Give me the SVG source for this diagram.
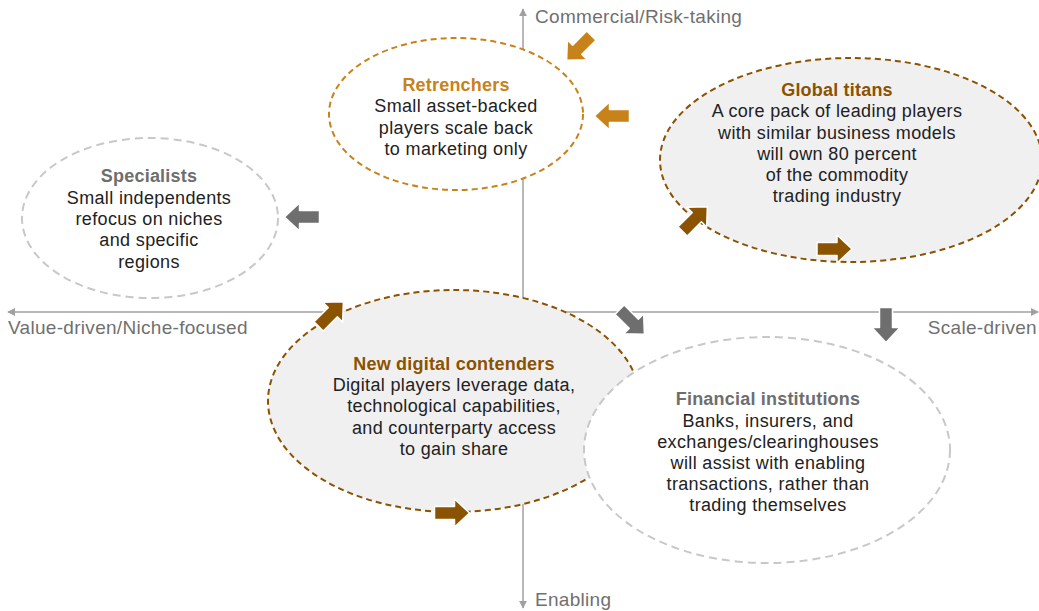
<svg xmlns="http://www.w3.org/2000/svg" width="1039" height="611" viewBox="0 0 1039 611">
<style>
.axis{stroke:#a0a0a0;stroke-width:1.5;fill:none}
.axl{font-family:"Liberation Sans",Arial,sans-serif;font-size:19px;letter-spacing:0.3px;fill:#707070}
.t{font-family:"Liberation Sans",Arial,sans-serif;font-size:18px;letter-spacing:0.35px;fill:#222;text-anchor:middle}
.h{font-weight:bold;font-size:18px;letter-spacing:0.2px}
.gold{fill:#c8821a}
.brown{fill:#8b5200}
.grey{fill:#6e6e6e}
.eb{stroke:#8b5200;stroke-width:2;stroke-dasharray:6 4;fill:#f0f0f0}
.eg{stroke:#c8821a;stroke-width:2;stroke-dasharray:6 4;fill:#fff}
.el{stroke:#c8c8c8;stroke-width:2;stroke-dasharray:8 5;fill:#fff}
.ar{stroke:#fff;stroke-width:1.5;stroke-linejoin:round}
</style>
<defs>
<path id="blk" d="M-17.5,-6.5 H2.5 V-14 L17.5,0 L2.5,14 V6.5 H-17.5 Z"/>
<marker id="ah" viewBox="0 0 10 10" refX="9" refY="5" markerWidth="8" markerHeight="8" markerUnits="userSpaceOnUse" orient="auto"><path d="M0,0 L10,5 L0,10 Z" fill="#a0a0a0"/></marker>
</defs>
<g id="axes">
<line class="axis" x1="523" y1="312" x2="523" y2="9" marker-end="url(#ah)"/>
<line class="axis" x1="523" y1="312" x2="523" y2="608" marker-end="url(#ah)"/>
<line class="axis" x1="523" y1="312" x2="8" y2="312" marker-end="url(#ah)"/>
<line class="axis" x1="523" y1="312" x2="1038" y2="312" marker-end="url(#ah)"/>
<text class="axl" x="535" y="23">Commercial/Risk-taking</text>
<text class="axl" x="8" y="334">Value-driven/Niche-focused</text>
<text class="axl" x="1037" y="334" text-anchor="end">Scale-driven</text>
<text class="axl" x="535" y="606">Enabling</text>
</g>
<g id="specialists">
<ellipse class="el" cx="150" cy="218" rx="128" ry="80"/>
<text class="t h grey" x="149" y="182">Specialists</text>
<text class="t" x="149" y="204">Small independents</text>
<text class="t" x="149" y="225">refocus on niches</text>
<text class="t" x="149" y="246">and specific</text>
<text class="t" x="149" y="268">regions</text>
</g>
<g id="retrenchers">
<ellipse class="eg" cx="456" cy="114" rx="127" ry="76"/>
<text class="t h gold" x="456" y="91">Retrenchers</text>
<text class="t" x="456" y="112">Small asset-backed</text>
<text class="t" x="456" y="134">players scale back</text>
<text class="t" x="456" y="155">to marketing only</text>
</g>
<g id="global-titans">
<ellipse class="eb" cx="851" cy="160" rx="191" ry="102"/>
<text class="t h brown" x="837" y="96">Global titans</text>
<text class="t" x="837" y="117">A core pack of leading players</text>
<text class="t" x="837" y="139">with similar business models</text>
<text class="t" x="837" y="160">will own 80 percent</text>
<text class="t" x="837" y="181">of the commodity</text>
<text class="t" x="837" y="202">trading industry</text>
</g>
<g id="new-digital-contenders">
<ellipse class="eb" cx="454" cy="401" rx="186" ry="111"/>
<text class="t h brown" x="454" y="370">New digital contenders</text>
<text class="t" x="454" y="391">Digital players leverage data,</text>
<text class="t" x="454" y="412">technological capabilities,</text>
<text class="t" x="454" y="434">and counterparty access</text>
<text class="t" x="454" y="455">to gain share</text>
</g>
<g id="financial-institutions">
<ellipse class="el" cx="767" cy="450" rx="183" ry="113"/>
<text class="t h grey" x="768" y="405">Financial institutions</text>
<text class="t" x="768" y="427">Banks, insurers, and</text>
<text class="t" x="768" y="448">exchanges/clearinghouses</text>
<text class="t" x="768" y="469">will assist with enabling</text>
<text class="t" x="768" y="490">transactions, rather than</text>
<text class="t" x="768" y="511">trading themselves</text>
</g>
<g id="connectors">
<use href="#blk" class="ar gold" transform="translate(579,48) rotate(135)"/>
<use href="#blk" class="ar gold" transform="translate(612,116) rotate(180)"/>
<use href="#blk" class="ar grey" transform="translate(302,217) rotate(180)"/>
<use href="#blk" class="ar brown" transform="translate(331,314) rotate(-45)"/>
<use href="#blk" class="ar brown" transform="translate(695,219) rotate(-45)"/>
<use href="#blk" class="ar brown" transform="translate(834.5,249)"/>
<use href="#blk" class="ar grey" transform="translate(632,322) rotate(45)"/>
<use href="#blk" class="ar grey" transform="translate(886,325) rotate(90)"/>
<use href="#blk" class="ar brown" transform="translate(452,513)"/>
</g>
</svg>
